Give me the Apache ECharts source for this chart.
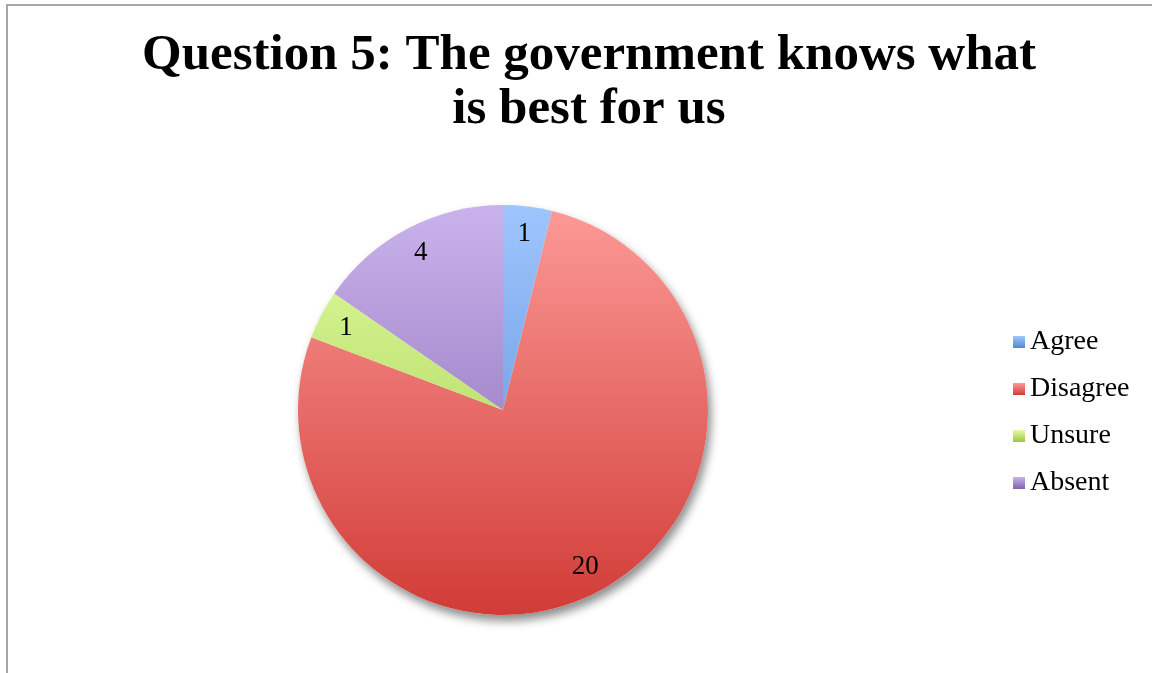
<!DOCTYPE html>
<html>
<head>
<meta charset="utf-8">
<script src="https://cdn.jsdelivr.net/npm/echarts@6/dist/echarts.min.js"></script>
<style>
  html, body { margin: 0; padding: 0; background: #ffffff; }
  #chart { width: 1152px; height: 673px; }
</style>
</head>
<body>
<div id="chart"></div>
<script>
// Survey answers for question 5
const titleText = 'Question 5: The government knows what\nis best for us';
const categories = ['Agree', 'Disagree', 'Unsure', 'Absent'];
const counts = [1, 20, 1, 4];
// Top and bottom colours of each slice's vertical gradient
const topColors = ['#9fc5fd', '#fc9a97', '#e0ffa2', '#cab3ec'];
const bottomColors = ['#5289d3', '#d13c37', '#9fc546', '#8261ad'];

const cx = 503, cy = 410, R = 205;
const FONT = '"Liberation Serif", "DejaVu Serif", serif';

function gradient(i, global) {
  const stops = [
    { offset: 0, color: topColors[i] },
    { offset: 1, color: bottomColors[i] }
  ];
  if (global) {
    return { type: 'linear', global: true, x: cx, y: cy - R, x2: cx, y2: cy + R, colorStops: stops };
  }
  return { type: 'linear', x: 0, y: 0, x2: 0, y2: 1, colorStops: stops };
}

const pieData = categories.map((name, i) => ({
  name: name,
  value: counts[i],
  itemStyle: { color: gradient(i, true) }
}));

const total = counts.reduce((a, b) => a + b, 0);

const chart = echarts.init(document.getElementById('chart'), null, { renderer: 'canvas' });
chart.setOption({
  animation: false,
  backgroundColor: '#ffffff',
  color: bottomColors,
  title: {
    text: titleText,
    left: 584,
    top: 24,
    textAlign: 'center',
    textStyle: {
      fontFamily: FONT,
      fontWeight: 'bold',
      fontSize: 51,
      lineHeight: 54,
      color: '#000000'
    }
  },
  legend: {
    orient: 'vertical',
    left: 1008,
    top: 323,
    itemWidth: 12,
    itemHeight: 12,
    itemGap: 19,
    icon: 'rect',
    data: categories.map((name, i) => ({ name: name, itemStyle: { color: gradient(i, false) } })),
    textStyle: { fontFamily: FONT, fontSize: 28, lineHeight: 26, color: '#000000', padding: [0, 0, 0, 0] }
  },
  graphic: [{
    type: 'rect',
    shape: { x: 7, y: 5, width: 1200, height: 700 },
    style: { fill: 'none', stroke: '#a6a6a6', lineWidth: 2 },
    silent: true,
    z: 100
  }],
  series: [
    {
      // soft drop shadow beneath the whole pie
      type: 'pie',
      center: [cx, cy],
      radius: [0, R],
      silent: true,
      z: 1,
      label: { show: false },
      labelLine: { show: false },
      data: [{ value: total, name: '' }],
      itemStyle: {
        color: '#ffffff',
        shadowBlur: 10,
        shadowOffsetX: 3,
        shadowOffsetY: 6,
        shadowColor: 'rgba(0,0,0,0.45)'
      },
      legendHoverLink: false
    },
    {
      type: 'pie',
      center: [cx, cy],
      radius: [0, R],
      startAngle: 90,
      clockwise: true,
      z: 2,
      label: { show: false },
      labelLine: { show: false },
      itemStyle: { borderWidth: 0 },
      data: pieData
    },
    {
      // value labels placed near the rim
      type: 'pie',
      center: [cx, cy],
      radius: [R * 0.7, R],
      startAngle: 90,
      clockwise: true,
      silent: true,
      z: 3,
      legendHoverLink: false,
      itemStyle: { color: 'rgba(0,0,0,0)', borderWidth: 0 },
      label: {
        show: true,
        position: 'inside',
        formatter: '{c}',
        fontFamily: FONT,
        fontSize: 27,
        color: '#000000'
      },
      labelLine: { show: false },
      data: categories.map((name, i) => ({ name: name, value: counts[i] }))
    }
  ]
});
</script>
</body>
</html>
